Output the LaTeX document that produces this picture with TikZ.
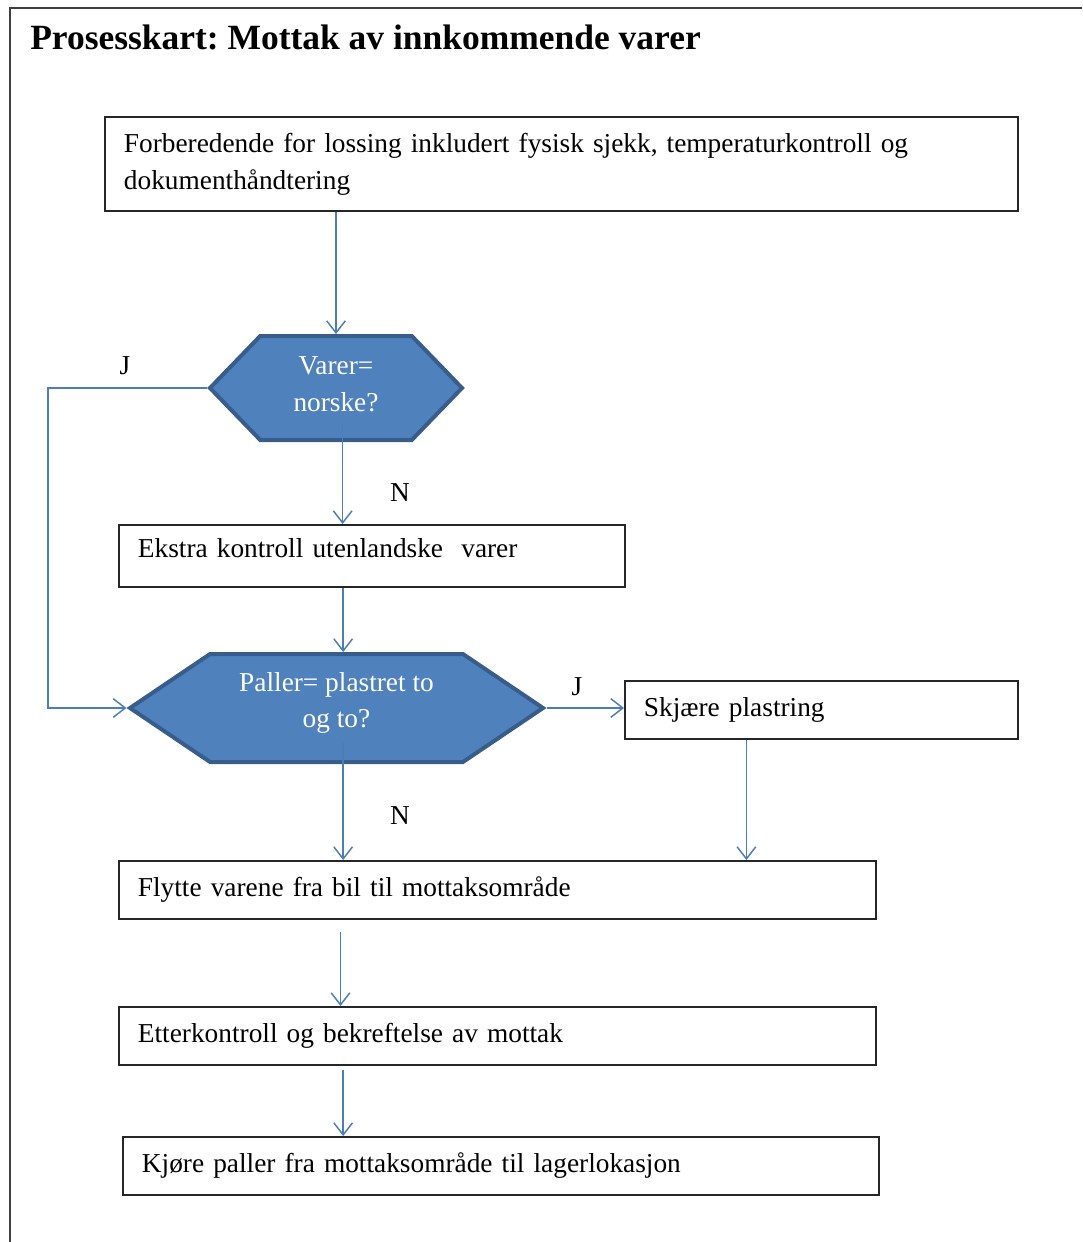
\documentclass[tikz,border=0pt]{standalone}
\usepackage{fontspec}
\setmainfont{Liberation Serif}
\usetikzlibrary{shapes.symbols, arrows.meta, calc}
\definecolor{hexfill}{HTML}{4F81BD}
\definecolor{hexline}{HTML}{385D8A}
\definecolor{flowblue}{HTML}{4A7EBB}
\newcommand{\flowfont}{\fontsize{20.5pt}{27.7pt}\selectfont}
\frenchspacing

\begin{document}
\begin{tikzpicture}[x=0.75pt, y=-0.75pt,
		flow/.style={draw=flowblue, line width=1.1pt, -{Straight Barb[length=9pt, width=14pt]}},
		box/.style={rectangle, draw=black!85, line width=1.4pt, anchor=north west, align=left, inner xsep=14.25pt, inner ysep=0pt, font=\flowfont},
		hex/.style={signal, signal to=east and west, draw=hexline, fill=hexfill, line width=3pt, text=white, align=center, font=\flowfont, inner sep=0pt},
		lab/.style={font=\flowfont}]
		\useasboundingbox (0,0) rectangle (1082,1242);
		\draw[black!75, line width=2pt] (10,1242) |- (1082,8);
		
		\node[anchor=west, inner sep=0pt, font=\bfseries\fontsize{26.6pt}{30pt}\selectfont] (title) at (30,37) {Prosesskart: Mottak av innkommende varer};
		
		\node[box, text width=656.25pt, minimum height=70.5pt] (prep) at (104,116) {Forberedende for lossing inkludert fysisk sjekk, temperaturkontroll og\\dokumenthåndtering};
		
		\node[hex, signal pointer angle=92, minimum width=189pt, minimum height=78pt, text depth=6pt] (norsk) at (336,388) {Varer=\\norske?};
		\node[lab] (j-norsk) at (125,366) {J};
		\node[lab] (n-norsk) at (400,493) {N};
		
		\node[box, text width=351pt, minimum height=46.5pt, text depth=12pt] (ekstra) at (118,524) {Ekstra kontroll utenlandske\ \ varer};
		
		\node[hex, signal pointer angle=68, minimum width=309.75pt, minimum height=81pt, text depth=12pt] (plast) at (336.5,708) {Paller= plastret to\\og to?};
		\node[lab] (j-plast) at (577,687) {J};
		\node[lab] (n-plast) at (400,816) {N};
		
		\node[box, text width=266.25pt, minimum height=43.5pt] (skjaer) at (624,680) {Skjære plastring};
		\node[box, text width=539.25pt, minimum height=43.5pt] (flytt) at (118,860) {Flytte varene fra bil til mottaksområde};
		\node[box, text width=539.25pt, minimum height=43.5pt] (etter) at (118,1006) {Etterkontroll og bekreftelse av mottak};
		\node[box, text width=538.5pt, minimum height=43.5pt] (kjor) at (122,1136) {Kjøre paller fra mottaksområde til lagerlokasjon};
		
		\coordinate (loop) at (48,388);
		\coordinate (skjaer-out) at ($(skjaer.south west)!0.31!(skjaer.south east)$);
		
		\draw[flow] (norsk.north |- prep.south) -- (norsk.north);
		\draw[flow, shorten <=-13pt] ([xshift=5pt]norsk.south) -- ([xshift=5pt]norsk.south |- ekstra.north);
		\draw[flow] (norsk.west) -- (loop) |- (plast.west);
		\draw[flow] ([xshift=5pt]plast.north |- ekstra.south) -- ([xshift=5pt]plast.north);
		\draw[flow] (plast.east) -- (plast.east -| skjaer.west);
		\draw[flow, shorten <=-16pt] ([xshift=5pt]plast.south) -- ([xshift=5pt]plast.south |- flytt.north);
		\draw[flow] (skjaer-out) -- (skjaer-out |- flytt.north);
		\draw[flow, shorten <=9pt] ([xshift=3pt]plast.south |- flytt.south) -- ([xshift=3pt]plast.south |- etter.north);
		\draw[flow, shorten <=3pt] ([xshift=5pt]plast.south |- etter.south) -- ([xshift=5pt]plast.south |- kjor.north);
		
	\end{tikzpicture}
\end{document}
